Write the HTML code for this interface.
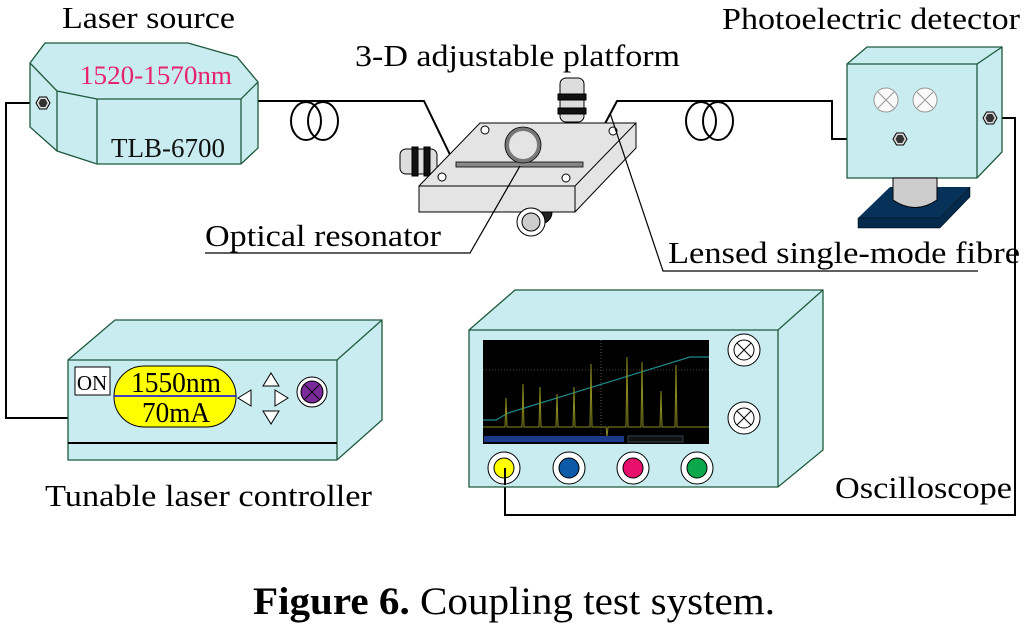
<!DOCTYPE html>
<html><head><meta charset="utf-8"><style>
html,body{margin:0;padding:0;background:#fff;}
svg{display:block;}
text{font-family:"Liberation Serif",serif;}
</style></head><body>
<svg width="1024" height="625" viewBox="0 0 1024 625" xmlns="http://www.w3.org/2000/svg">
<defs>
<g id="hex"><polygon points="-7,0 -3.5,-6 3.5,-6 7,0 3.5,6 -3.5,6" fill="#ddd" stroke="#000" stroke-width="1"/><polygon points="-4.5,0 -2.3,-4 2.3,-4 4.5,0 2.3,4 -2.3,4" fill="#333"/></g>
</defs>
<g fill="none" stroke="#000" stroke-width="2">
<polyline points="43,103 6,103 6,418 68,418"/>
<polyline points="258,101 424,101 455,165"/>
<polyline points="583,165 617,101 832,101 832,139 900,139"/>
<polyline points="990,118 1015,118 1015,515 505,515 505,470"/>
</g>
<g fill="none" stroke="#000" stroke-width="2">
<ellipse cx="306" cy="121" rx="15" ry="19"/><ellipse cx="323" cy="121" rx="15" ry="19"/>
<ellipse cx="701" cy="121" rx="15" ry="19"/><ellipse cx="718" cy="121" rx="15" ry="19"/>
</g>
<g stroke="#1e5a3c" stroke-width="1.3" fill="#c8ecf0">
<polygon points="45,43 188,43 237,57 258,82 258,148 241,164 97,164 57,151 30,127 30,63"/>
<polyline fill="none" points="30,63 57,91 97,99 241,99 258,82"/>
<line x1="57" y1="91" x2="57" y2="151"/>
<line x1="97" y1="99" x2="97" y2="164"/>
<line x1="241" y1="99" x2="241" y2="164"/>
</g>
<use href="#hex" x="43" y="103"/>
<text x="80" y="84" font-size="26" fill="#e8236e" textLength="152" lengthAdjust="spacingAndGlyphs">1520-1570nm</text>
<text x="111" y="157" font-size="27" fill="#111" textLength="114" lengthAdjust="spacingAndGlyphs">TLB-6700</text>
<g stroke="#000" stroke-width="1">
<rect x="560" y="78" width="24" height="44" rx="6" fill="#ddd"/>
<rect x="558" y="94" width="28" height="6" fill="#111"/><rect x="558" y="108" width="28" height="6" fill="#111"/>
<rect x="400" y="149" width="37" height="25" rx="6" fill="#ddd"/>
<rect x="412" y="147" width="6" height="29" fill="#111"/><rect x="424" y="147" width="6" height="29" fill="#111"/>
<circle cx="540" cy="212" r="12" fill="#222"/>
</g>
<polygon points="480,123 636,123 636,148 575,212 419,212 419,186" fill="#e4e4e4" stroke="#000" stroke-width="1"/>
<polyline points="419,186 575,186 636,123" fill="none" stroke="#000" stroke-width="1"/>
<line x1="575" y1="186" x2="575" y2="212" stroke="#000" stroke-width="1"/>
<circle cx="531" cy="222" r="14" fill="#fff" stroke="#000"/><circle cx="531" cy="222" r="9" fill="#ccc" stroke="#000"/>
<rect x="456" y="162" width="127" height="5" fill="#888" stroke="#000" stroke-width="0.8"/>
<circle cx="523" cy="145" r="16" fill="none" stroke="#777" stroke-width="4"/>
<circle cx="523" cy="145" r="18" fill="none" stroke="#000" stroke-width="0.8"/>
<g fill="#fff" stroke="#000"><circle cx="485" cy="130" r="4"/><circle cx="613" cy="131" r="4"/><circle cx="442" cy="177" r="4"/><circle cx="566" cy="178" r="4"/></g>
<g fill="none" stroke="#000" stroke-width="1.2">
<polyline points="205,253 470,253 520,166"/>
<polyline points="978,271 663,271 610,113"/>
</g>
<g stroke="#1e5a3c" stroke-width="1.3" fill="#c8ecf0">
<polygon points="847,64 867,47 1002,47 1002,152 977,178 847,178"/>
<polyline fill="none" points="847,64 977,64 1002,47"/><line x1="977" y1="64" x2="977" y2="178"/>
</g>
<polygon points="858,218 890,187 970,187 940,218" fill="#06325a"/>
<polygon points="858,218 940,218 970,187 970,197 940,228 858,228" fill="#052a4c" stroke="#000" stroke-width="0.5"/>
<path d="M893,178 L937,178 L937,200 Q915,215 893,200 Z" fill="#ccc" stroke="#000"/>
<g stroke="#999" fill="#fafafa"><circle cx="886" cy="100" r="12"/><circle cx="925" cy="100" r="12"/>
<path d="M878,92 L894,108 M894,92 L878,108 M917,92 L933,108 M933,92 L917,108"/></g>
<use href="#hex" x="900" y="139"/><use href="#hex" x="990" y="118"/>
<g stroke="#1e5a3c" stroke-width="1.3" fill="#c8ecf0">
<polygon points="68,360 115,320 382,320 382,420 337,460 68,460"/>
<polyline fill="none" points="68,360 337,360 382,320"/><line x1="337" y1="360" x2="337" y2="460"/>
</g>
<line x1="68" y1="443" x2="337" y2="443" stroke="#000" stroke-width="2"/>
<rect x="75" y="367" width="35" height="28" fill="#fff" stroke="#000"/>
<text x="92" y="390" font-size="21" text-anchor="middle">ON</text>
<rect x="114" y="366" width="122" height="61" rx="30" fill="#ffff00" stroke="#000"/>
<line x1="114" y1="396" x2="236" y2="396" stroke="#00f" stroke-width="1.5"/>
<text x="131" y="392" font-size="28" textLength="90" lengthAdjust="spacingAndGlyphs">1550nm</text>
<text x="142" y="422" font-size="28" textLength="68" lengthAdjust="spacingAndGlyphs">70mA</text>
<g fill="#fff" stroke="#000"><polygon points="263,386 271,373 279,386"/><polygon points="263,411 271,424 279,411"/><polygon points="251,390 238,398 251,406"/><polygon points="275,390 288,398 275,406"/></g>
<circle cx="312" cy="392" r="15" fill="#fff" stroke="#000"/><circle cx="312" cy="392" r="11" fill="#7a2a9a" stroke="#000"/>
<path d="M304,384 L320,400 M320,384 L304,400" stroke="#000"/>
<g stroke="#1e5a3c" stroke-width="1.3" fill="#c8ecf0">
<polygon points="469,330 515,290 823,290 823,450 778,487 469,487"/>
<polyline fill="none" points="469,330 778,330 823,290"/><line x1="778" y1="330" x2="778" y2="487"/>
</g>
<rect x="483" y="340" width="226" height="104" fill="#000"/>
<line x1="601" y1="340" x2="601" y2="434" stroke="#555" stroke-dasharray="1,2"/>
<line x1="483" y1="370" x2="709" y2="370" stroke="#444" stroke-dasharray="1,2"/>
<polyline points="483,420 496,420 508,413 690,357 709,357" fill="none" stroke="#1a8a8a" stroke-width="1.2"/>
<polyline points="483,427 505,427 506,398 507,427 522,427 523,384 524,427 539,427 540,387 541,427 556,427 557,394 558,427 573,427 574,387 575,427 590,427 591,364 592,427 606,427 607,437 608,427 626,427 627,357 628,427 641,427 642,362 643,427 660,427 661,391 662,427 675,427 676,365 677,427 709,427" fill="none" stroke="#8a8a20" stroke-width="1"/>
<rect x="484" y="436" width="140" height="6" fill="#1a3a8a"/><rect x="628" y="436" width="55" height="6" fill="#111" stroke="#345"/>
<g fill="#fff" stroke="#000"><circle cx="744" cy="350" r="16"/><circle cx="744" cy="418" r="16"/><circle cx="744" cy="350" r="10"/><circle cx="744" cy="418" r="10"/></g>
<path d="M737,343 L751,357 M751,343 L737,357 M737,411 L751,425 M751,411 L737,425" stroke="#000"/>
<g stroke="#000"><circle cx="504" cy="468" r="16" fill="#fff"/><circle cx="504" cy="468" r="10" fill="#ffff00"/>
<circle cx="569" cy="468" r="16" fill="#fff"/><circle cx="569" cy="468" r="10" fill="#0a5aa8"/>
<circle cx="633" cy="468" r="16" fill="#fff"/><circle cx="633" cy="468" r="10" fill="#e8106a"/>
<circle cx="697" cy="468" r="16" fill="#fff"/><circle cx="697" cy="468" r="10" fill="#0aa84a"/></g>
<line x1="505" y1="468" x2="505" y2="485" stroke="#000" stroke-width="2"/>
<g font-size="31" fill="#000">
<text x="62" y="28" textLength="173" lengthAdjust="spacingAndGlyphs">Laser source</text>
<text x="355" y="66" textLength="325" lengthAdjust="spacingAndGlyphs">3-D adjustable platform</text>
<text x="722" y="29" textLength="298" lengthAdjust="spacingAndGlyphs">Photoelectric detector</text>
<text x="205" y="246" textLength="236" lengthAdjust="spacingAndGlyphs">Optical resonator</text>
<text x="668" y="263" textLength="352" lengthAdjust="spacingAndGlyphs">Lensed single-mode fibre</text>
<text x="45" y="506" textLength="327" lengthAdjust="spacingAndGlyphs">Tunable laser controller</text>
<text x="835" y="498" textLength="177" lengthAdjust="spacingAndGlyphs">Oscilloscope</text>
</g>
<text x="253" y="614" font-size="39" textLength="522" lengthAdjust="spacingAndGlyphs"><tspan font-weight="bold">Figure 6.</tspan> Coupling test system.</text>
</svg>
</body></html>
